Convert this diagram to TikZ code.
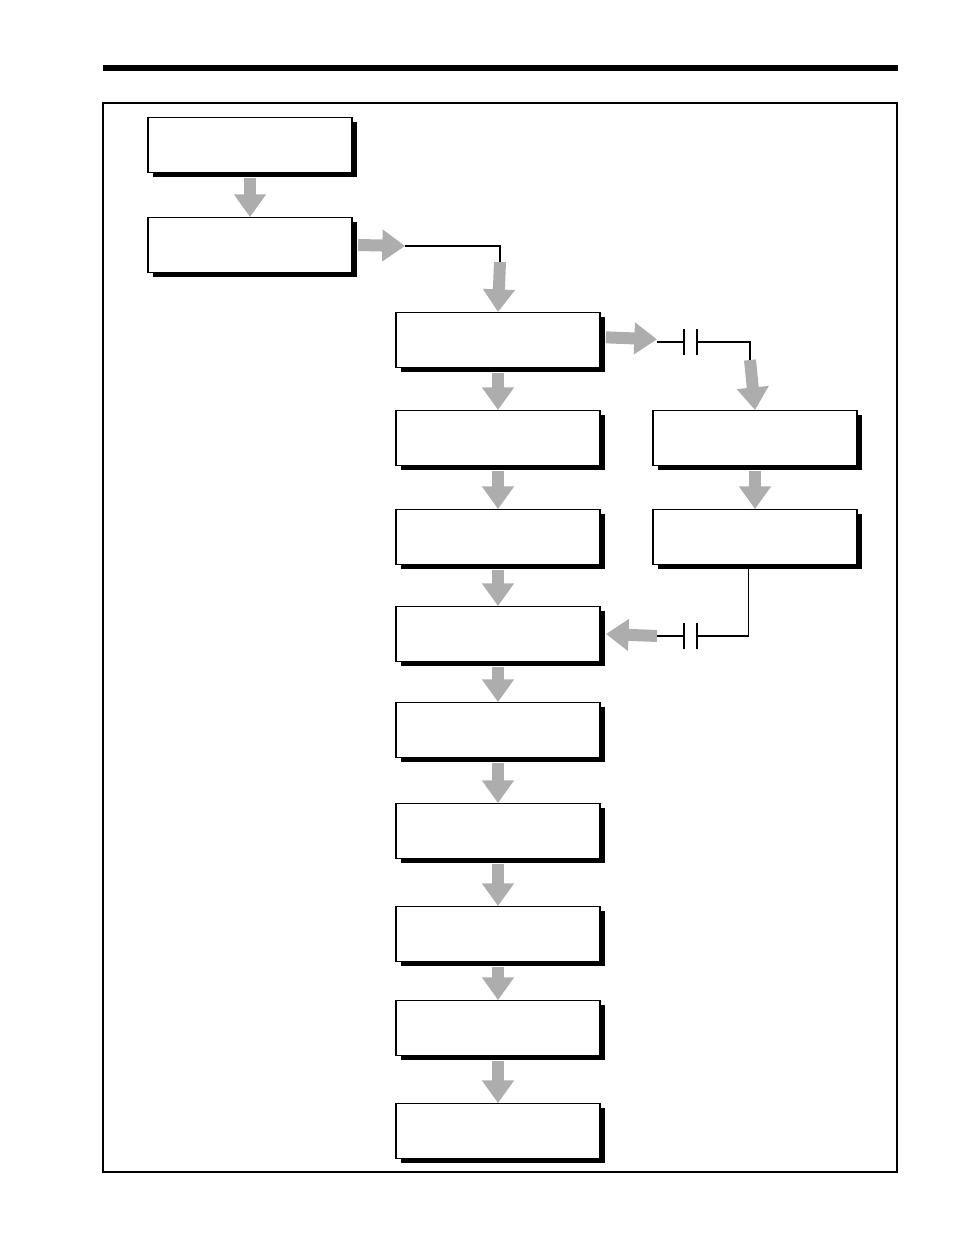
\documentclass[tikz,border=0pt]{standalone}
\usetikzlibrary{arrows.meta,shadows}
\tikzstyle{stepbox}=[draw, fill=white, line width=0.9pt, minimum width=153pt, minimum height=41pt,
    general shadow={fill=black, shadow xshift=3.5pt, shadow yshift=-3.5pt}]
\tikzstyle{flow}=[line width=9pt, draw=black!32, -{Triangle[width=23pt,length=17pt]}]
\tikzstyle{wire}=[line width=1.2pt]
\tikzstyle{plate}=[line width=1.6pt]
\def\gap{4pt}

\begin{document}
\begin{tikzpicture}[x=0.75pt,y=-0.75pt]
	\useasboundingbox (0,0) rectangle (954,1235);
	% header bar and frame
	\fill (103,65) rectangle (898,71);
	\draw[line width=0.9pt] (103,103) rectangle (897,1172);

	% Define the nodes in the picture
	\node (start) [stepbox] at (250,145) {};
	\node (prep) [stepbox] at (250,245) {};
	\foreach \name/\y in {m1/340, m2/438, m3/537, m4/634, m5/730, m6/831, m7/934, m8/1028, m9/1131}
		\node (\name) [stepbox] at (498,\y) {};
	\node (s1) [stepbox] at (755,438) {};
	\node (s2) [stepbox] at (755,537) {};
	\coordinate (bend1) at (405,246);
	\coordinate (top1) at (500,262);
	\coordinate (bend2) at (657,342);
	\coordinate (capa) at (684,342);
	\coordinate (capb) at (697,342);
	\coordinate (top2) at (750,360);
	\coordinate (ret) at (657,636);
	\coordinate (capc) at (684,636);
	\coordinate (capd) at (697,636);

	% Define the edges in the picture
	\draw [flow] ([yshift=-\gap]start.south) -- (prep.north);
	\draw [flow] ([xshift=\gap]prep.east) -- (bend1);
	\draw [wire] (bend1) -| (top1);
	\draw [flow] (top1) -- (m1.north);
	\foreach \a/\b in {m1/m2, m2/m3, m3/m4, m4/m5, m5/m6, m6/m7, m7/m8, m8/m9, s1/s2}
		\draw [flow] ([yshift=-\gap]\a.south) -- (\b.north);
	\draw [flow] ([xshift=\gap,yshift=2pt]m1.east) -- ([yshift=2pt]bend2);
	\draw [wire] (bend2) -- (capa);
	\draw [plate] ([yshift=-10]capa) -- ([yshift=10]capa);
	\draw [plate] ([yshift=-10]capb) -- ([yshift=10]capb);
	\draw [wire] (capb) -| (top2);
	\draw [flow] (top2) -- (s1.north);
	\draw [wire] ([xshift=-5]s2.south) |- (capd);
	\draw [plate] ([yshift=-10]capc) -- ([yshift=10]capc);
	\draw [plate] ([yshift=-10]capd) -- ([yshift=10]capd);
	\draw [wire] (capc) -- (ret);
	\draw [flow] (ret) -- ([xshift=\gap]m4.east);
\end{tikzpicture}
\end{document}
